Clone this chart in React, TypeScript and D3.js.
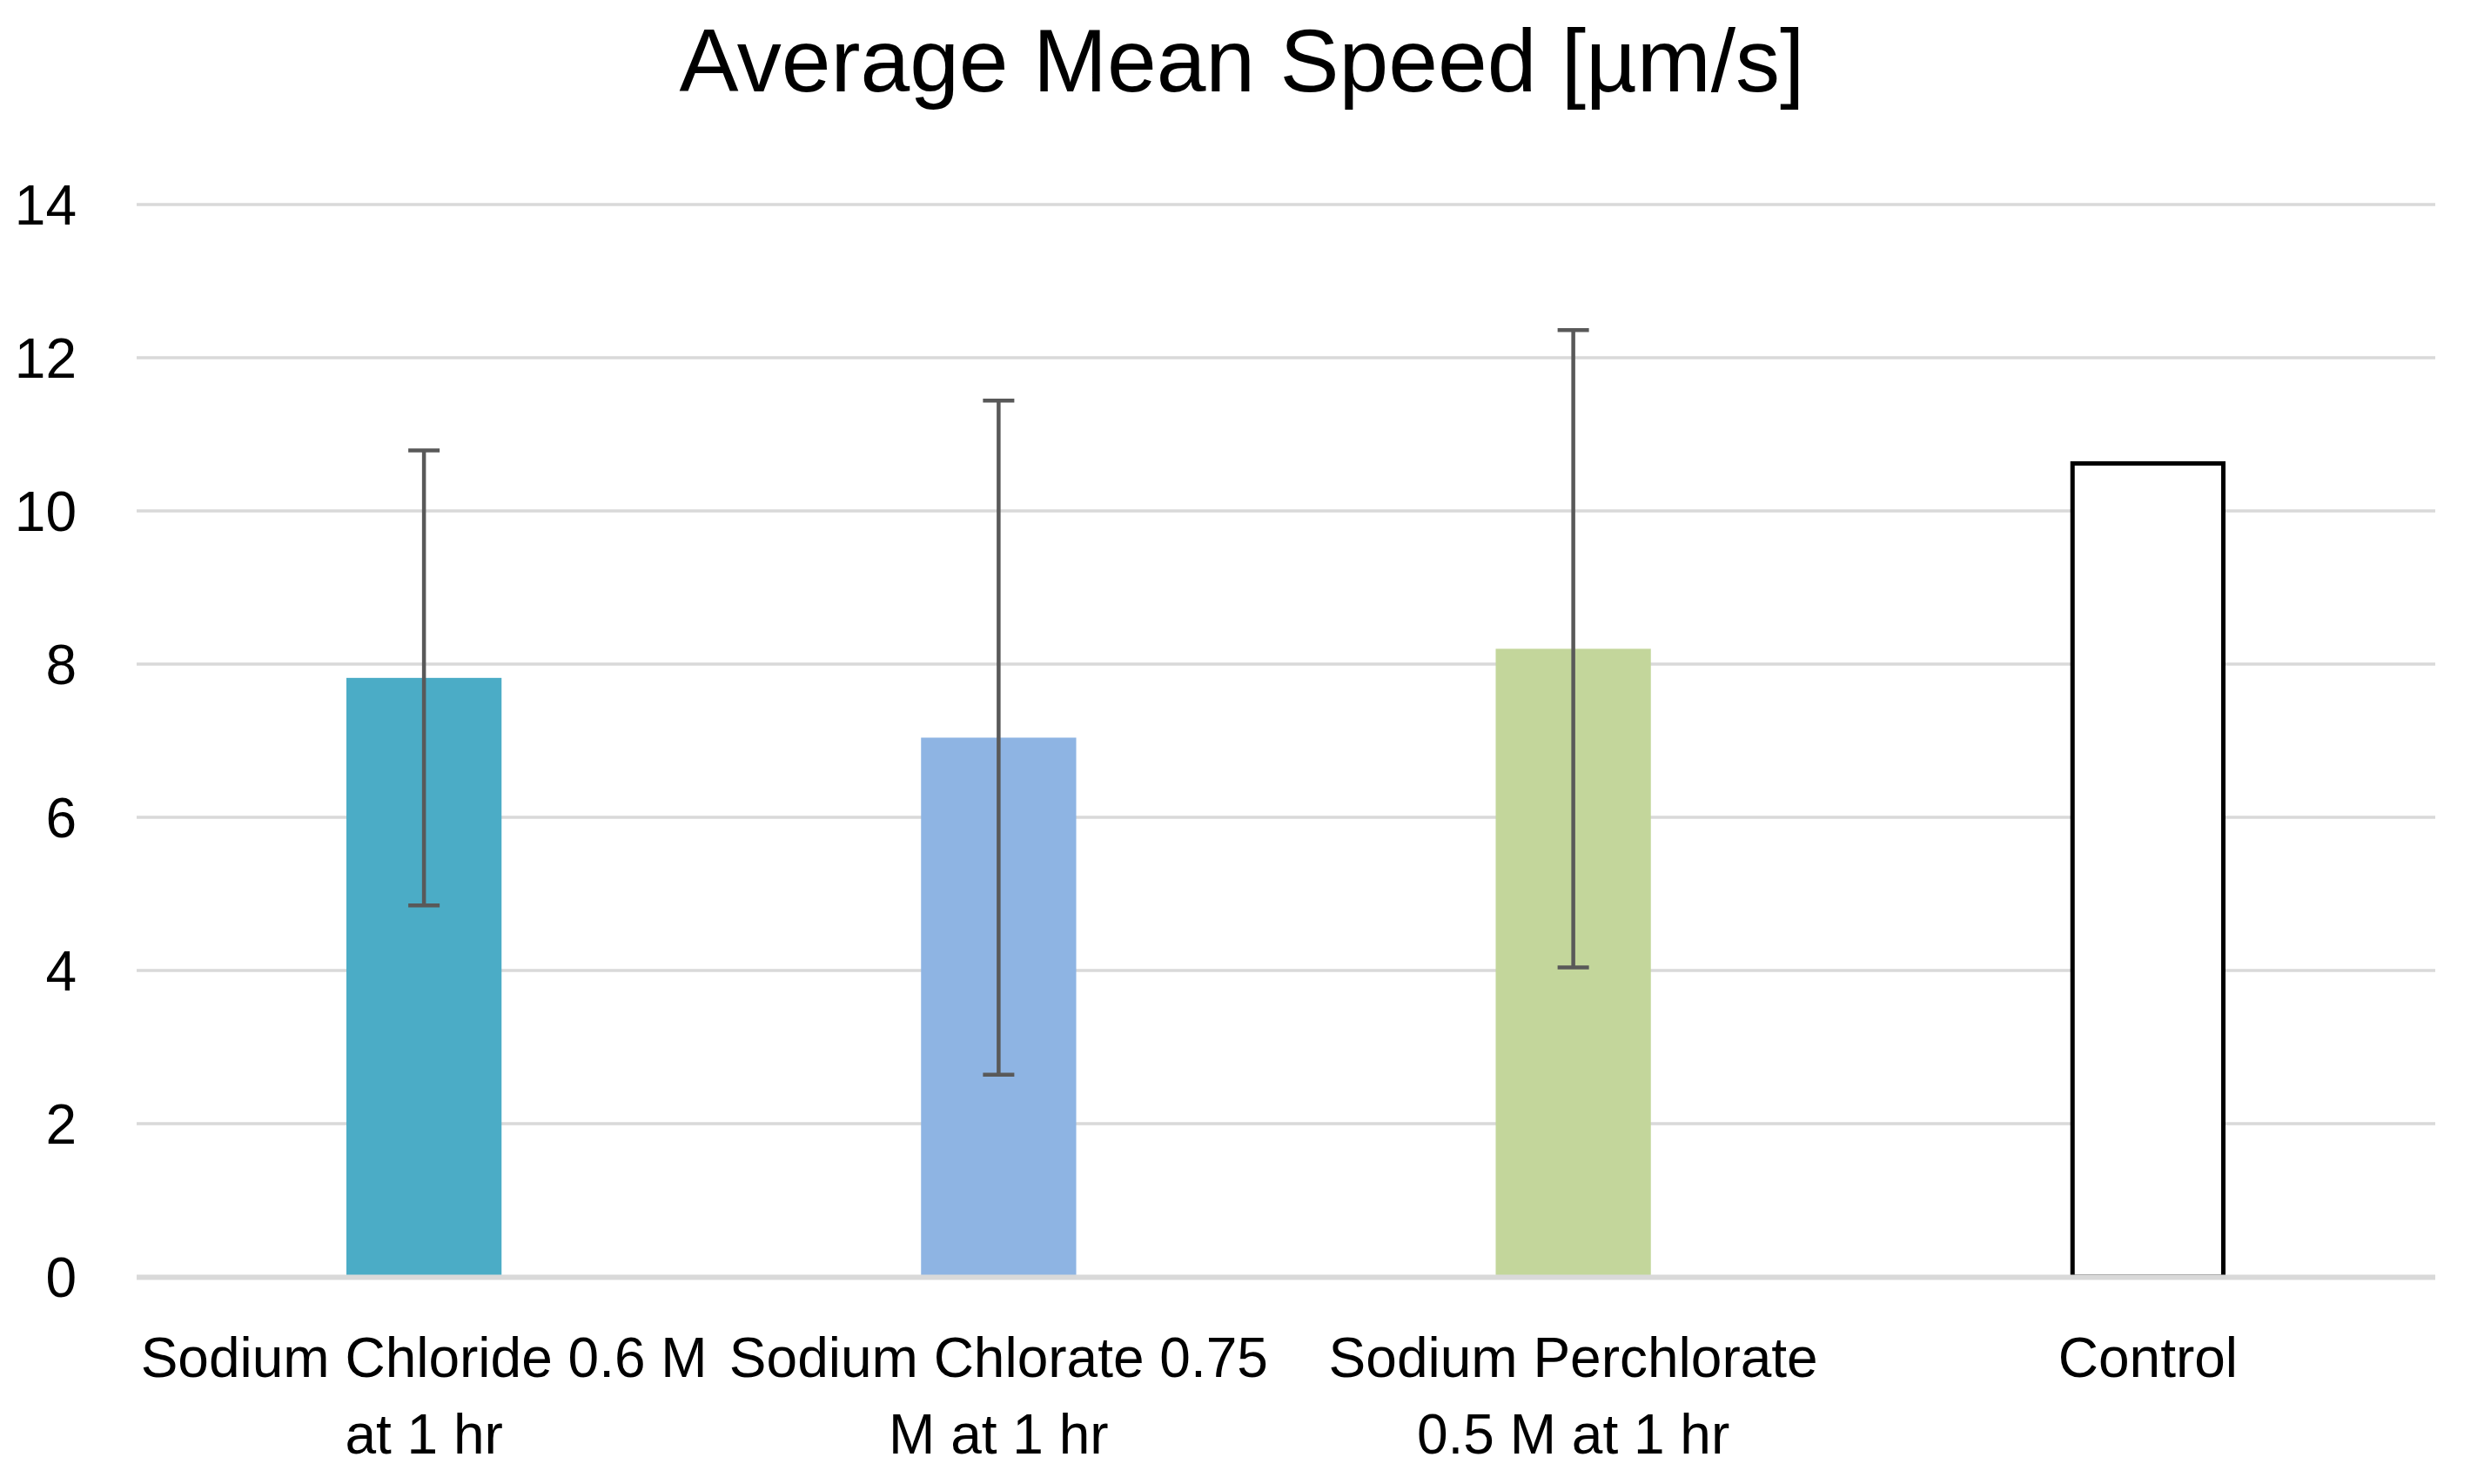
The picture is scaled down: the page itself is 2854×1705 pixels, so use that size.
import { useMemo } from 'react';
import * as d3 from 'd3';

const categories = [
  'Sodium Chloride 0.6 M at 1 hr',
  'Sodium Chlorate 0.75 M at 1 hr',
  'Sodium Perchlorate 0.5 M at 1 hr',
  'Control',
];
const means = [7.82, 7.04, 8.2, 10.62];
const errors: (number | null)[] = [2.97, 4.4, 4.16, null];
const fills = ['#4BACC6', '#8EB4E3', '#C3D69B', '#FFFFFF'];
const strokes = ['none', 'none', 'none', '#000000'];
const yTicks = [0, 2, 4, 6, 8, 10, 12, 14];

const WIDTH = 2854;
const HEIGHT = 1705;
const MARGIN = { top: 235, right: 56, bottom: 238, left: 157 };
const FONT = '"Liberation Sans", Arial, sans-serif';
const LABEL_SIZE = 64;

// word wrap like Excel does, against the width of one category slot
function wrap(text: string, maxWidth: number): string[] {
  const ctx = document.createElement('canvas').getContext('2d');
  if (!ctx) return [text];
  ctx.font = `${LABEL_SIZE}px ${FONT}`;
  const words = text.split(' ');
  const lines: string[] = [];
  let cur = '';
  words.forEach(w => {
    const next = cur ? `${cur} ${w}` : w;
    if (cur && ctx.measureText(next).width > maxWidth) {
      lines.push(cur);
      cur = w;
    } else {
      cur = next;
    }
  });
  if (cur) lines.push(cur);
  return lines;
}

export default function App() {
  const innerWidth = WIDTH - MARGIN.left - MARGIN.right;
  const innerHeight = HEIGHT - MARGIN.top - MARGIN.bottom;

  const x = d3.scaleBand<string>()
    .domain(categories)
    .range([0, innerWidth])
    .paddingInner(0.73)
    .paddingOuter(0.365);

  const y = d3.scaleLinear()
    .domain([0, 14])
    .range([innerHeight, 0]);

  const step = x.step();
  const labels = useMemo(() => categories.map(c => wrap(c, step)), [step]);

  return (
    <svg
      width={WIDTH}
      height={HEIGHT}
      style={{ position: 'absolute', left: 0, top: 0, background: '#fff' }}
      fontFamily={FONT}
    >
      <text
        x={WIDTH / 2}
        y={105}
        textAnchor="middle"
        fontSize={102}
        fill="#000"
      >
        Average Mean Speed [µm/s]
      </text>

      <g transform={`translate(${MARGIN.left},${MARGIN.top})`}>
        {/* grid (baseline drawn later, over the bars) */}
        {yTicks.filter(t => t !== 0).map(t => (
          <line
            key={`g${t}`}
            x1={0}
            x2={innerWidth}
            y1={y(t)}
            y2={y(t)}
            stroke="#D9D9D9"
            strokeWidth={3.5}
          />
        ))}

        {/* y tick labels */}
        {yTicks.map(t => (
          <text
            key={`t${t}`}
            x={-69}
            y={y(t)}
            dy="0.36em"
            textAnchor="end"
            fontSize={LABEL_SIZE}
            fill="#000"
          >
            {t}
          </text>
        ))}

        {/* bars */}
        {categories.map((c, i) => {
          const sw = strokes[i] === 'none' ? 0 : 5;
          return (
            <rect
              key={c}
              x={(x(c) ?? 0) + sw / 2}
              y={y(means[i])}
              width={x.bandwidth() - sw}
              height={y(0) - y(means[i])}
              fill={fills[i]}
              stroke={strokes[i]}
              strokeWidth={sw}
            />
          );
        })}

        {/* category axis line */}
        <line
          x1={0}
          x2={innerWidth}
          y1={y(0) + 0.5}
          y2={y(0) + 0.5}
          stroke="#D9D9D9"
          strokeWidth={6}
        />

        {/* error bars */}
        {categories.map((c, i) => {
          const e = errors[i];
          if (e == null) return null;
          const cx = (x(c) ?? 0) + x.bandwidth() / 2;
          const y1 = y(means[i] + e);
          const y2 = y(means[i] - e);
          return (
            <g key={`e${c}`} stroke="#595959" strokeWidth={4.5}>
              <line x1={cx} x2={cx} y1={y1} y2={y2} />
              <line x1={cx - 18} x2={cx + 18} y1={y1} y2={y1} />
              <line x1={cx - 18} x2={cx + 18} y1={y2} y2={y2} />
            </g>
          );
        })}

        {/* x labels */}
        {categories.map((c, i) => {
          const cx = (x(c) ?? 0) + x.bandwidth() / 2;
          return (
            <text
              key={`l${c}`}
              x={cx}
              y={innerHeight + 115}
              textAnchor="middle"
              fontSize={LABEL_SIZE}
              fill="#000"
            >
              {labels[i].map((ln, j) => (
                <tspan key={j} x={cx} dy={j === 0 ? 0 : 88}>
                  {ln}
                </tspan>
              ))}
            </text>
          );
        })}
      </g>
    </svg>
  );
}
